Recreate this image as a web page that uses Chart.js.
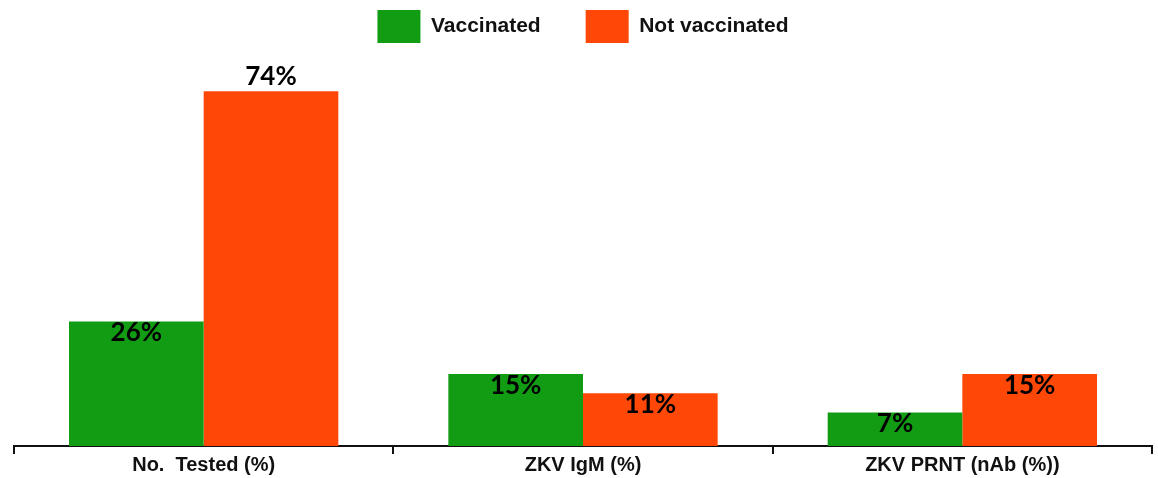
<!DOCTYPE html>
<html>
<head>
<meta charset="utf-8">
<script src="https://cdn.jsdelivr.net/npm/chart.js@4/dist/chart.umd.min.js"></script>
<style>
  html, body { margin: 0; padding: 0; background: #fff; }
  #wrap { width: 1158px; height: 478px; }
</style>
</head>
<body>
<div id="wrap"><canvas id="c" width="1158" height="478"></canvas></div>
<script>
const categories = ['No.  Tested (%)', 'ZKV IgM (%)', 'ZKV PRNT (nAb (%))'];
const seriesNames = ['Vaccinated', 'Not vaccinated'];
const vaccinated = [26, 15, 7];
const notVaccinated = [74, 11, 15];
const colors = ['#129C14', '#FF4807'];

const valueLabels = {
  id: 'valueLabels',
  afterDatasetsDraw(chart) {
    const ctx = chart.ctx;
    let maxVal = -Infinity;
    chart.data.datasets.forEach(ds => ds.data.forEach(v => { if (v > maxVal) maxVal = v; }));
    ctx.save();
    ctx.font = 'bold 26px Lato, "Open Sans", sans-serif';
    ctx.fillStyle = '#000';
    ctx.textAlign = 'center';
    ctx.textBaseline = 'middle';
    chart.data.datasets.forEach((ds, di) => {
      const meta = chart.getDatasetMeta(di);
      meta.data.forEach((bar, i) => {
        const v = ds.data[i];
        const y = v === maxVal ? bar.y - 15 : bar.y + 11;
        ctx.fillText(v + '%', bar.x, y);
      });
    });
    ctx.restore();
  }
};

new Chart(document.getElementById('c'), {
  type: 'bar',
  data: {
    labels: categories,
    datasets: [
      { label: seriesNames[0] + '      ', data: vaccinated, backgroundColor: colors[0] },
      { label: seriesNames[1], data: notVaccinated, backgroundColor: colors[1] }
    ]
  },
  options: {
    responsive: false,
    animation: false,
    layout: { padding: { left: 14, right: 6, top: 0, bottom: 2 } },
    datasets: { bar: { categoryPercentage: 0.71, barPercentage: 1.0 } },
    plugins: {
      legend: {
        position: 'top',
        labels: {
          boxWidth: 43,
          boxHeight: 33,
          padding: 10,
          color: '#111',
          font: { family: '"Liberation Sans", Arial, sans-serif', size: 21, weight: 'bold' }
        }
      },
      tooltip: { enabled: false }
    },
    scales: {
      x: {
        grid: {
          offset: true,
          drawOnChartArea: false,
          drawTicks: true,
          tickLength: 8,
          color: '#111',
          lineWidth: 2
        },
        border: { display: true, color: '#111', width: 2 },
        ticks: {
          color: '#111',
          padding: 1,
          font: { family: '"Liberation Sans", Arial, sans-serif', size: 20, weight: 'bold', lineHeight: 1 }
        }
      },
      y: {
        display: false,
        min: 0,
        max: 82
      }
    }
  },
  plugins: [valueLabels]
});
</script>
</body>
</html>
